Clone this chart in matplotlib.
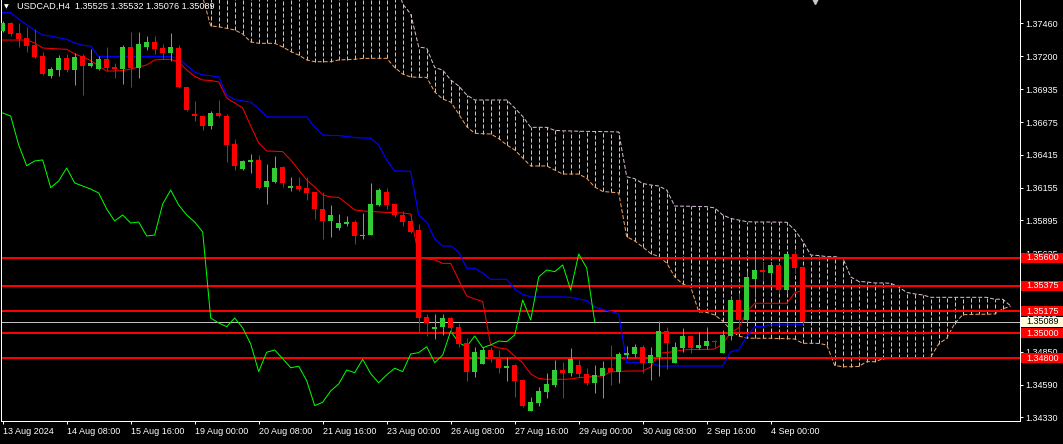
import numpy as np
import matplotlib
matplotlib.use("Agg")
import matplotlib.pyplot as plt
from matplotlib.patches import Rectangle

# USDCAD H4 candles, 13 Aug 2024 .. 4 Sep 2024
opens = [1.37401, 1.37460, 1.37381, 1.37343, 1.37288, 1.37200, 1.37042, 1.37089, 1.37184, 1.37089,
         1.37200, 1.37121, 1.37097, 1.37176, 1.37113, 1.37097, 1.37272, 1.37105, 1.37272, 1.37312,
         1.37264, 1.37224, 1.37264, 1.36954, 1.36740, 1.36724, 1.36645, 1.36748, 1.36724, 1.36502,
         1.36303, 1.36361, 1.36375, 1.36160, 1.36200, 1.36319, 1.36152, 1.36168, 1.36152, 1.36120,
         1.35985, 1.35890, 1.35835, 1.35866, 1.35882, 1.35771, 1.35779, 1.36017, 1.36120, 1.36025,
         1.35938, 1.35890, 1.35819, 1.35128, 1.35035, 1.35051, 1.35120, 1.35046, 1.34919, 1.34694,
         1.34757, 1.34866, 1.34797, 1.34725, 1.34747, 1.34628, 1.34384, 1.34448, 1.34535, 1.34588,
         1.34707, 1.34686, 1.34747, 1.34675, 1.34606, 1.34662, 1.34721, 1.34694, 1.34824, 1.34834,
         1.34892, 1.34765, 1.34813, 1.35017, 1.34765, 1.34884, 1.34977, 1.34884, 1.34898, 1.34937,
         1.34845, 1.34977, 1.35263, 1.35104, 1.35430, 1.35501, 1.35477, 1.35541, 1.35342, 1.35628,
         1.35525]
highs = [1.37478, 1.37470, 1.37460, 1.37433, 1.37415, 1.37234, 1.37113, 1.37208, 1.37219, 1.37224,
         1.37219, 1.37256, 1.37200, 1.37272, 1.37145, 1.37288, 1.37391, 1.37391, 1.37359, 1.37359,
         1.37296, 1.37383, 1.37288, 1.36958, 1.36843, 1.36732, 1.36764, 1.36851, 1.36740, 1.36539,
         1.36375, 1.36422, 1.36414, 1.36343, 1.36406, 1.36327, 1.36240, 1.36240, 1.36240, 1.36124,
         1.36120, 1.36017, 1.35946, 1.35930, 1.35898, 1.35954, 1.36192, 1.36152, 1.36152, 1.36030,
         1.35970, 1.35946, 1.35866, 1.35152, 1.35152, 1.35152, 1.35130, 1.35078, 1.34959, 1.34892,
         1.34892, 1.34887, 1.34866, 1.34810, 1.34755, 1.34636, 1.34495, 1.34575, 1.34681, 1.34787,
         1.34771, 1.34880, 1.34787, 1.34725, 1.34747, 1.34779, 1.34906, 1.34853, 1.34901, 1.34910,
         1.34902, 1.34892, 1.35096, 1.35046, 1.34930, 1.35038, 1.34985, 1.35007, 1.35046, 1.34945,
         1.35025, 1.35289, 1.35316, 1.35493, 1.35634, 1.35565, 1.35565, 1.35549, 1.35634, 1.35660,
         1.35532]
lows = [1.37391, 1.37359, 1.37269, 1.37234, 1.37187, 1.37049, 1.37026, 1.37042, 1.37073, 1.36970,
        1.36891, 1.37113, 1.37089, 1.37081, 1.37026, 1.36978, 1.36954, 1.37026, 1.37248, 1.37216,
        1.37176, 1.37161, 1.36946, 1.36766, 1.36684, 1.36613, 1.36621, 1.36716, 1.36359, 1.36295,
        1.36295, 1.36274, 1.36144, 1.36028, 1.36192, 1.36160, 1.36128, 1.36128, 1.36057, 1.35906,
        1.35747, 1.35763, 1.35819, 1.35851, 1.35708, 1.35747, 1.35775, 1.36009, 1.35985, 1.35922,
        1.35851, 1.35795, 1.35009, 1.34977, 1.34956, 1.34983, 1.34999, 1.34892, 1.34622, 1.34654,
        1.34752, 1.34771, 1.34686, 1.34622, 1.34495, 1.34416, 1.34380, 1.34424, 1.34487, 1.34570,
        1.34487, 1.34660, 1.34654, 1.34588, 1.34527, 1.34487, 1.34588, 1.34606, 1.34800, 1.34810,
        1.34686, 1.34628, 1.34660, 1.34718, 1.34760, 1.34853, 1.34845, 1.34876, 1.34876, 1.34892,
        1.34840, 1.34945, 1.35011, 1.35083, 1.35289, 1.35414, 1.35382, 1.35316, 1.35321, 1.35475,
        1.35076]
closes = [1.37465, 1.37375, 1.37338, 1.37280, 1.37192, 1.37057, 1.37097, 1.37184, 1.37089, 1.37192,
          1.37121, 1.37145, 1.37176, 1.37105, 1.37099, 1.37272, 1.37105, 1.37296, 1.37312, 1.37256,
          1.37224, 1.37272, 1.36954, 1.36772, 1.36724, 1.36645, 1.36748, 1.36724, 1.36494, 1.36329,
          1.36367, 1.36375, 1.36155, 1.36208, 1.36311, 1.36192, 1.36168, 1.36144, 1.36113, 1.35985,
          1.35890, 1.35938, 1.35874, 1.35882, 1.35771, 1.35779, 1.36025, 1.36136, 1.36017, 1.35938,
          1.35882, 1.35803, 1.35120, 1.35080, 1.35051, 1.35120, 1.35041, 1.34914, 1.34694, 1.34848,
          1.34866, 1.34797, 1.34725, 1.34737, 1.34622, 1.34424, 1.34451, 1.34541, 1.34596, 1.34707,
          1.34686, 1.34792, 1.34678, 1.34606, 1.34668, 1.34721, 1.34694, 1.34834, 1.34845, 1.34892,
          1.34765, 1.34826, 1.35017, 1.34924, 1.34892, 1.34977, 1.34884, 1.34906, 1.34937, 1.34932,
          1.34985, 1.35263, 1.35104, 1.35446, 1.35501, 1.35488, 1.35541, 1.35342, 1.35628, 1.35517,
          1.35089]

# Ichimoku lines
tenkan = [1.37327, 1.37327, 1.37327, 1.37327, 1.37304, 1.37264, 1.37260, 1.37256, 1.37254, 1.37216,
          1.37192, 1.37165, 1.37121, 1.37081, 1.37081, 1.37085, 1.37097, 1.37113, 1.37129, 1.37169,
          1.37173, 1.37174, 1.37153, 1.37089, 1.37038, 1.37010, 1.37006, 1.36994, 1.36867, 1.36827,
          1.36788, 1.36645, 1.36510, 1.36446, 1.36444, 1.36441, 1.36375, 1.36295, 1.36216, 1.36160,
          1.36097, 1.36081, 1.36078, 1.36029, 1.35978, 1.35970, 1.35966, 1.35962, 1.35959, 1.35956,
          1.35954, 1.35946, 1.35604, 1.35589, 1.35581, 1.35554, 1.35553, 1.35422, 1.35295, 1.35271,
          1.35251, 1.34906, 1.34882, 1.34874, 1.34818, 1.34763, 1.34675, 1.34640, 1.34633, 1.34633,
          1.34633, 1.34636, 1.34646, 1.34652, 1.34656, 1.34660, 1.34694, 1.34694, 1.34699, 1.34699,
          1.34699, 1.34731, 1.34840, 1.34846, 1.34854, 1.34866, 1.34870, 1.34870, 1.34870, 1.34874,
          1.34914, 1.35005, 1.35041, 1.35168, 1.35237, 1.35237, 1.35237, 1.35237, 1.35237, 1.35319,
          1.35342]
kijun = [1.37544, 1.37544, 1.37494, 1.37449, 1.37403, 1.37367, 1.37359, 1.37345, 1.37333, 1.37304,
         1.37285, 1.37280, 1.37195, 1.37195, 1.37195, 1.37195, 1.37195, 1.37195, 1.37195, 1.37195,
         1.37195, 1.37195, 1.37181, 1.37125, 1.37073, 1.37050, 1.37044, 1.37034, 1.36891, 1.36855,
         1.36843, 1.36835, 1.36780, 1.36718, 1.36716, 1.36716, 1.36716, 1.36716, 1.36716, 1.36637,
         1.36573, 1.36569, 1.36569, 1.36561, 1.36553, 1.36549, 1.36547, 1.36494, 1.36375, 1.36287,
         1.36287, 1.36283, 1.35938, 1.35882, 1.35747, 1.35692, 1.35692, 1.35644, 1.35515, 1.35515,
         1.35477, 1.35427, 1.35427, 1.35427, 1.35350, 1.35307, 1.35287, 1.35287, 1.35287, 1.35287,
         1.35287, 1.35284, 1.35271, 1.35259, 1.35207, 1.35188, 1.35172, 1.35152, 1.34768, 1.34768,
         1.34768, 1.34768, 1.34739, 1.34739, 1.34739, 1.34739, 1.34739, 1.34739, 1.34739, 1.34739,
         1.34739, 1.34853, 1.34866, 1.34972, 1.35051, 1.35051, 1.35065, 1.35065, 1.35065, 1.35065,
         1.35072]

# cloud spans from bar 25 to bar 126 (26 bars ahead of the last candle)
cloud_first_bar = 25
span_a = [1.37669,
          1.37439, 1.37433, 1.37420, 1.37407, 1.37375, 1.37312, 1.37301, 1.37301, 1.37301,
          1.37272, 1.37236, 1.37208, 1.37169, 1.37155, 1.37155, 1.37155, 1.37169, 1.37171, 1.37174,
          1.37181, 1.37182, 1.37182, 1.37182, 1.37109, 1.37057, 1.37034, 1.37031, 1.37031, 1.36915,
          1.36859, 1.36835, 1.36740, 1.36639, 1.36587, 1.36583, 1.36581, 1.36545, 1.36494, 1.36454,
          1.36391, 1.36327, 1.36327, 1.36327, 1.36295, 1.36263, 1.36263, 1.36263, 1.36229, 1.36160,
          1.36125, 1.36119, 1.36113, 1.35766, 1.35732, 1.35684, 1.35632, 1.35608, 1.35557, 1.35446,
          1.35390, 1.35366, 1.35170, 1.35164, 1.35144, 1.35096, 1.35025, 1.34977, 1.34961, 1.34959,
          1.34959, 1.34959, 1.34957, 1.34956, 1.34953, 1.34919, 1.34919, 1.34918, 1.34906, 1.34743,
          1.34733, 1.34733, 1.34735, 1.34773, 1.34773, 1.34795, 1.34800, 1.34800, 1.34800, 1.34800,
          1.34800, 1.34810, 1.34914, 1.34959, 1.35076, 1.35146, 1.35148, 1.35150, 1.35150, 1.35152,
          1.35192, 1.35215]
span_b = [1.38000, 1.38000, 1.38000, 1.38000, 1.38000, 1.38000, 1.38000, 1.38000, 1.38000, 1.38000,
          1.38000, 1.38000, 1.38000, 1.38000, 1.38000, 1.38000, 1.38000, 1.38000, 1.38000, 1.38000,
          1.38000, 1.38000, 1.38000, 1.38000,
          1.37844, 1.37613, 1.37534, 1.37272, 1.37262, 1.37109, 1.37089, 1.37010, 1.36962, 1.36891,
          1.36851, 1.36851, 1.36851, 1.36851, 1.36851, 1.36788, 1.36720, 1.36634, 1.36634, 1.36634,
          1.36610, 1.36606, 1.36605, 1.36603, 1.36602, 1.36601, 1.36600, 1.36599, 1.36597, 1.36242,
          1.36226, 1.36188, 1.36176, 1.36168, 1.36136, 1.36009, 1.36008, 1.36007, 1.36005, 1.36004,
          1.35994, 1.35938, 1.35910, 1.35898, 1.35885, 1.35882, 1.35882, 1.35882, 1.35881, 1.35880,
          1.35819, 1.35732, 1.35620, 1.35616, 1.35607, 1.35607, 1.35597, 1.35446, 1.35410, 1.35406,
          1.35398, 1.35398, 1.35396, 1.35366, 1.35323, 1.35311, 1.35303, 1.35284, 1.35284, 1.35284,
          1.35284, 1.35284, 1.35284, 1.35284, 1.35284, 1.35269, 1.35269, 1.35215]

chikou_shift = 26
levels = [1.35600, 1.35375, 1.35175, 1.35000, 1.34800]
last_price = 1.35089
price_ticks = [1.37460, 1.37200, 1.36935, 1.36675, 1.36415, 1.36155, 1.35895,
               1.35635, 1.35375, 1.35115, 1.34850, 1.34590, 1.34330]
time_ticks = [0, 8, 16, 24, 32, 40, 48, 56, 64, 72, 80, 88, 96]
time_labels = ["13 Aug 2024", "14 Aug 08:00", "15 Aug 16:00", "19 Aug 00:00", "20 Aug 08:00",
               "21 Aug 16:00", "23 Aug 00:00", "26 Aug 08:00", "27 Aug 16:00", "29 Aug 00:00",
               "30 Aug 08:00", "2 Sep 16:00", "4 Sep 00:00"]
title = "USDCAD,H4  1.35525 1.35532 1.35076 1.35089"

W, H = 1063, 444
PX = 72 / 100  # one pixel in points
plt.rcParams["font.family"] = ["Liberation Sans", "DejaVu Sans"]

fig = plt.figure(figsize=(W / 100, H / 100), dpi=100, facecolor="black")
ax = fig.add_axes([1 / W, 23 / H, 1019 / W, 421 / H])
ax.set_facecolor("black")
ax.set_xlim(-0.21, 127.16)
ax.set_ylim(1.34302, 1.37645)

o = np.array(opens)
h = np.array(highs)
l = np.array(lows)
c = np.array(closes)
idx = np.arange(len(o))
bull = c >= o
cols = np.where(bull, "#32CD32", "#FF0000")

# Kumo (hatched with dotted vertical lines like MT4)
cx = np.arange(cloud_first_bar, cloud_first_bar + len(span_a))
dash = (0, (4, 2))
ax.vlines(cx[1:], span_a[1:], span_b[1:], colors="#D8BFD8", linewidth=PX,
          linestyles=[dash], zorder=1)
ax.plot(cx, span_a, color="#F4A460", lw=PX, ls=dash, zorder=1.1)
ax.plot(cx, span_b, color="#D8BFD8", lw=PX, ls=dash, zorder=1.1)

# support / resistance levels and current price line
for lv in levels:
    ax.axhline(lv, color="#FF0000", lw=2 * PX, zorder=1.5)
ax.axhline(last_price, color="#C0C0C0", lw=PX, zorder=1.5)

# Ichimoku lines
ax.plot(idx, tenkan, color="#FF0000", lw=PX, zorder=2)
ax.plot(idx, kijun, color="#0000FF", lw=1.2 * PX, zorder=2)
ax.plot(idx[:len(c) - chikou_shift], c[chikou_shift:], color="#00FF00", lw=PX, zorder=2)

# candles
ax.vlines(idx, l, h, colors=cols, linewidth=PX, zorder=3)
body_lo = np.minimum(o, c)
body_h = np.maximum(np.abs(c - o), 0.00009)
ax.bar(idx, body_h, bottom=body_lo, width=0.64, color=cols, linewidth=0, zorder=3.5)

# axes styling
for side in ["left", "right", "bottom"]:
    ax.spines[side].set_color("white")
    ax.spines[side].set_linewidth(PX)
ax.spines["top"].set_visible(False)

ax.yaxis.tick_right()
ax.set_yticks(price_ticks)
ax.set_yticklabels([f"{v:.5f}" for v in price_ticks])
ax.tick_params(axis="y", colors="white", labelcolor="white", length=3 * PX,
               width=PX, pad=2.5 * PX, labelsize=6.5)
ax.set_xticks(time_ticks)
ax.set_xticklabels(time_labels)
ax.tick_params(axis="x", colors="white", labelcolor="white", length=3 * PX,
               width=PX, pad=3 * PX, labelsize=6.5)
for lab in ax.get_xticklabels():
    lab.set_ha("left")

# price labels on the right scale
def price_box(val, face, txt):
    y = ax.transData.transform((0, val))[1] / fig.bbox.height
    fig.patches.append(Rectangle((1021 / W, y - 5 / H), 42 / W, 10 / H,
                                 transform=fig.transFigure, facecolor=face,
                                 edgecolor="none", zorder=5))
    fig.text(1026 / W, y, f"{val:.5f}", color=txt, fontsize=6.5,
             ha="left", va="center", zorder=6)

for lv in levels:
    price_box(lv, "#FF0000", "white")
price_box(last_price, "#FFFFE0", "black")

# header and chart-shift marker
fig.text(4 / W, 1 - 7 / H, "\u25BC", color="white", fontsize=4.5,
         family="DejaVu Sans", ha="left", va="center")
fig.text(17 / W, 1 - 6.5 / H, title, color="white", fontsize=6.6, ha="left", va="center")
ax.plot([101.5], [1.37645], marker="v", ms=6, color="#C8C8C8", clip_on=False, zorder=6)

fig.savefig("out.png", dpi=100, facecolor="black")
